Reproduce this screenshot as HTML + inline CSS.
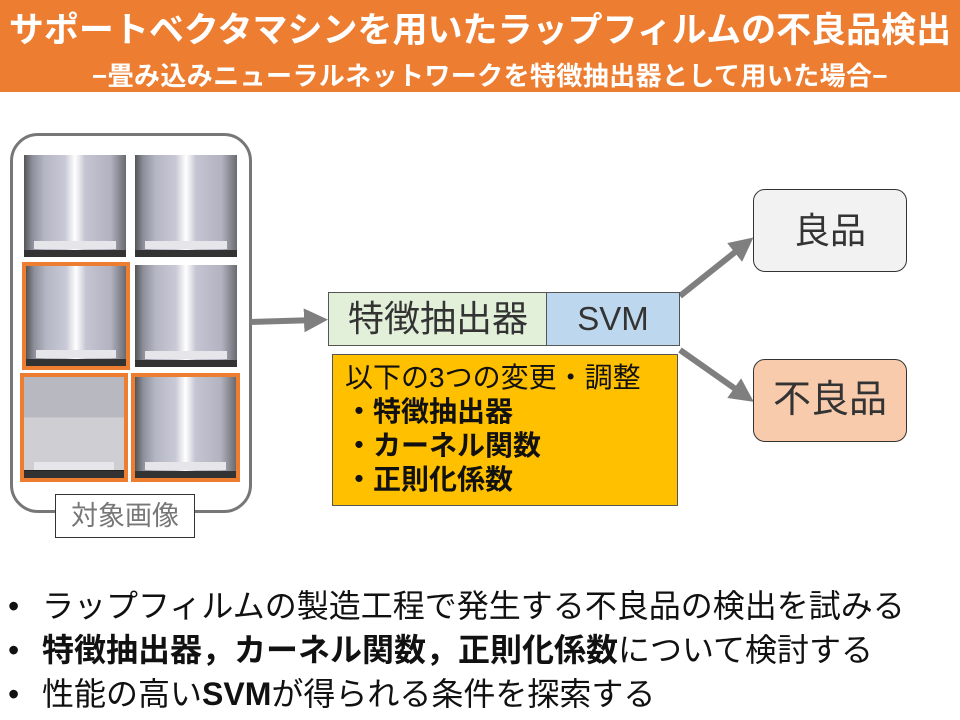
<!DOCTYPE html>
<html><head><meta charset="utf-8"><style>
body{margin:0;width:960px;height:720px;background:#fff;position:relative;overflow:hidden;font-family:"Liberation Sans","Noto Sans CJK JP",sans-serif}
.a{position:absolute}
.img{position:absolute;background:linear-gradient(90deg,#555 0%,#8c8e9a 8%,#b4b6c4 20%,#c9c9d6 40%,#fff 50%,#c4c4d2 60%,#b2b2c0 85%,#6a6a70 100%)}
.img:after{content:"";position:absolute;left:10%;right:10%;bottom:8%;height:8%;background:#e6e6ea}
.img:before{content:"";position:absolute;left:0;right:0;bottom:0;height:7%;background:#333}
.o{outline:4px solid #ED7D31}
.b{position:absolute;font-size:32px;line-height:44px;color:#111;white-space:nowrap}
</style></head><body>
<div class="a" style="left:0;top:0;width:960px;height:92px;background:#ED7D31"></div>
<div class="a" style="left:0;top:2px;width:960px;text-align:center;color:#fff;font-weight:bold;font-size:35px;white-space:nowrap">サポートベクタマシンを用いたラップフィルムの不良品検出</div>
<div class="a" style="left:20px;top:56px;width:940px;text-align:center;color:#fff;font-weight:bold;font-size:26px;white-space:nowrap;letter-spacing:0.4px">−畳み込みニューラルネットワークを特徴抽出器として用いた場合−</div>

<div class="a" style="left:10px;top:133px;width:236px;height:374px;border:3px solid #777;border-radius:28px"></div>
<div class="img" style="left:24px;top:155px;width:102px;height:102px"></div>
<div class="img" style="left:135px;top:155px;width:102px;height:102px"></div>
<div class="img o" style="left:26px;top:266px;width:100px;height:100px"></div>
<div class="img" style="left:135px;top:265px;width:102px;height:102px"></div>
<div class="img o" style="left:24px;top:377px;width:100px;height:101px;background:linear-gradient(180deg,#b8b8c0 0 40%,#cfcfd3 40% 92%,#222 92%)"></div>
<div class="img o" style="left:135px;top:377px;width:101px;height:101px"></div>
<div class="a" style="left:55px;top:494px;width:138px;height:42px;border:1px solid #333;background:#fff;color:#777;font-size:27px;text-align:center;line-height:42px">対象画像</div>

<svg class="a" style="left:0;top:0" width="960" height="720">
<defs><marker id="m" markerWidth="4" markerHeight="4" refX="2" refY="2" orient="auto"><path d="M0,0L4,2L0,4z" fill="#7f7f7f"/></marker></defs>
<line x1="250" y1="322" x2="316" y2="320" stroke="#7f7f7f" stroke-width="6" marker-end="url(#m)"/>
<line x1="680" y1="296" x2="744" y2="245" stroke="#7f7f7f" stroke-width="6" marker-end="url(#m)"/>
<line x1="680" y1="350" x2="744" y2="395" stroke="#7f7f7f" stroke-width="6" marker-end="url(#m)"/>
</svg>

<div class="a" style="left:328px;top:292px;width:218px;height:52px;background:#E2F0D9;border:1px solid #555;font-size:36px;text-align:center;line-height:52px;color:#333;white-space:nowrap">特徴抽出器</div>
<div class="a" style="left:546px;top:292px;width:132px;height:52px;background:#BDD7EE;border:1px solid #555;font-size:33px;text-align:center;line-height:52px;color:#333">SVM</div>
<div class="a" style="left:332px;top:354px;width:346px;height:152px;background:#FFC000;border:1px solid #555;font-size:28px;line-height:34px;padding:6px 0 0 12px;box-sizing:border-box;color:#111;white-space:nowrap">以下の3つの変更・調整<br><b>・特徴抽出器<br>・カーネル関数<br>・正則化係数</b></div>

<div class="a" style="left:753px;top:189px;width:152px;height:81px;background:#f2f2f2;border:1px solid #333;border-radius:12px;font-size:36px;text-align:center;line-height:81px;color:#333">良品</div>
<div class="a" style="left:753px;top:359px;width:152px;height:81px;background:#F8CBAD;border:1px solid #333;border-radius:12px;font-size:38px;text-align:center;line-height:81px;color:#333">不良品</div>

<div class="b" style="left:8px;top:584px">•<br>•<br>•</div>
<div class="b" style="left:42px;top:584px">ラップフィルムの製造工程で発生する不良品の検出を試みる<br><b>特徴抽出器，カーネル関数，正則化係数</b>について検討する<br>性能の高い<b>SVM</b>が得られる条件を探索する</div>
</body></html>
